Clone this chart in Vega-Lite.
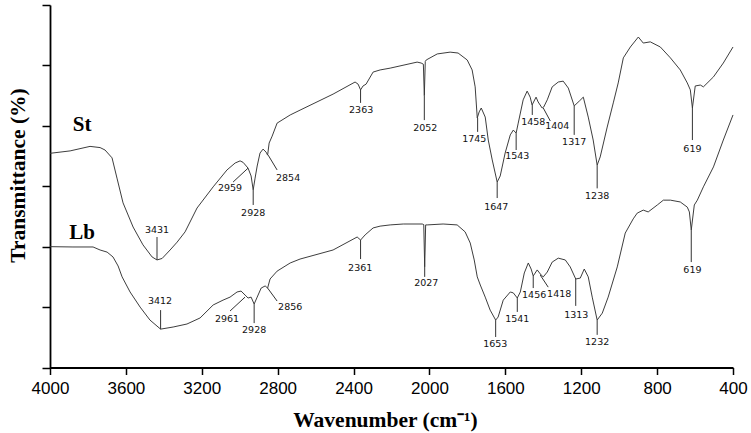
{
  "$schema": "https://vega.github.io/schema/vega-lite/v6.json",
  "width": 683,
  "height": 362.5,
  "autosize": {"type": "none"},
  "padding": {"left": 50, "top": 5, "right": 18, "bottom": 65.5},
  "background": "white",
  "config": {"view": {"stroke": null}, "axis": {"grid": false}},
  "datasets": {
    "spectra": [
      {"series":"St","wn":4000,"t":70.9},{"series":"St","wn":3894,"t":71.7},{"series":"St","wn":3789,"t":73.2},{"series":"St","wn":3736,"t":72.8},{"series":"St","wn":3710,"t":72.0},{"series":"St","wn":3673,"t":69.4},{"series":"St","wn":3647,"t":62.7},{"series":"St","wn":3615,"t":54.5},{"series":"St","wn":3562,"t":46.5},{"series":"St","wn":3510,"t":40.6},{"series":"St","wn":3462,"t":36.6},{"series":"St","wn":3436,"t":35.6},{"series":"St","wn":3409,"t":36.1},{"series":"St","wn":3367,"t":38.9},{"series":"St","wn":3330,"t":41.5},{"series":"St","wn":3288,"t":44.9},{"series":"St","wn":3225,"t":52.8},{"series":"St","wn":3140,"t":59.8},{"series":"St","wn":3067,"t":65.4},{"series":"St","wn":3024,"t":67.7},{"series":"St","wn":2998,"t":68.4},{"series":"St","wn":2982,"t":67.9},{"series":"St","wn":2956,"t":66.0},{"series":"St","wn":2940,"t":63.4},{"series":"St","wn":2929,"t":58.8},{"series":"St","wn":2919,"t":62.7},{"series":"St","wn":2908,"t":66.7},{"series":"St","wn":2893,"t":71.0},{"series":"St","wn":2877,"t":72.3},{"series":"St","wn":2861,"t":71.3},{"series":"St","wn":2853,"t":70.3},{"series":"St","wn":2845,"t":74.3},{"series":"St","wn":2829,"t":76.6},{"series":"St","wn":2803,"t":80.9},{"series":"St","wn":2734,"t":83.6},{"series":"St","wn":2682,"t":85.2},{"series":"St","wn":2508,"t":90.5},{"series":"St","wn":2392,"t":94.5},{"series":"St","wn":2376,"t":93.8},{"series":"St","wn":2363,"t":91.9},{"series":"St","wn":2350,"t":93.2},{"series":"St","wn":2334,"t":93.8},{"series":"St","wn":2297,"t":97.8},{"series":"St","wn":2260,"t":98.5},{"series":"St","wn":2207,"t":99.1},{"series":"St","wn":2065,"t":101.1},{"series":"St","wn":2044,"t":100.8},{"series":"St","wn":2032,"t":100.4},{"series":"St","wn":2027,"t":90.0},{"series":"St","wn":2022,"t":101.3},{"series":"St","wn":2017,"t":101.8},{"series":"St","wn":1959,"t":103.8},{"series":"St","wn":1891,"t":104.4},{"series":"St","wn":1849,"t":104.1},{"series":"St","wn":1801,"t":101.8},{"series":"St","wn":1775,"t":98.5},{"series":"St","wn":1759,"t":92.9},{"series":"St","wn":1748,"t":82.6},{"series":"St","wn":1738,"t":84.6},{"series":"St","wn":1727,"t":85.9},{"series":"St","wn":1706,"t":82.9},{"series":"St","wn":1690,"t":75.3},{"series":"St","wn":1669,"t":68.7},{"series":"St","wn":1643,"t":61.4},{"series":"St","wn":1627,"t":63.4},{"series":"St","wn":1601,"t":71.0},{"series":"St","wn":1574,"t":77.0},{"series":"St","wn":1558,"t":78.6},{"series":"St","wn":1543,"t":77.6},{"series":"St","wn":1532,"t":80.9},{"series":"St","wn":1506,"t":88.6},{"series":"St","wn":1485,"t":91.5},{"series":"St","wn":1469,"t":89.5},{"series":"St","wn":1459,"t":86.9},{"series":"St","wn":1438,"t":89.5},{"series":"St","wn":1427,"t":87.9},{"series":"St","wn":1406,"t":85.9},{"series":"St","wn":1398,"t":86.2},{"series":"St","wn":1379,"t":88.6},{"series":"St","wn":1353,"t":92.9},{"series":"St","wn":1321,"t":94.5},{"series":"St","wn":1295,"t":94.8},{"series":"St","wn":1268,"t":92.5},{"series":"St","wn":1237,"t":86.6},{"series":"St","wn":1210,"t":88.2},{"series":"St","wn":1189,"t":89.5},{"series":"St","wn":1163,"t":82.9},{"series":"St","wn":1137,"t":75.3},{"series":"St","wn":1116,"t":67.0},{"series":"St","wn":1100,"t":69.7},{"series":"St","wn":1063,"t":79.6},{"series":"St","wn":1031,"t":87.6},{"series":"St","wn":1005,"t":94.2},{"series":"St","wn":978,"t":102.5},{"series":"St","wn":941,"t":106.1},{"series":"St","wn":899,"t":109.4},{"series":"St","wn":873,"t":107.4},{"series":"St","wn":836,"t":107.8},{"series":"St","wn":783,"t":106.1},{"series":"St","wn":730,"t":102.5},{"series":"St","wn":678,"t":98.5},{"series":"St","wn":641,"t":94.2},{"series":"St","wn":625,"t":91.9},{"series":"St","wn":614,"t":85.9},{"series":"St","wn":599,"t":93.2},{"series":"St","wn":572,"t":93.5},{"series":"St","wn":556,"t":92.9},{"series":"St","wn":503,"t":96.2},{"series":"St","wn":451,"t":100.8},{"series":"St","wn":400,"t":106.1},
      {"series":"Lb","wn":4000,"t":40.0},{"series":"Lb","wn":3879,"t":39.9},{"series":"Lb","wn":3773,"t":39.9},{"series":"Lb","wn":3736,"t":38.9},{"series":"Lb","wn":3699,"t":38.2},{"series":"Lb","wn":3668,"t":36.6},{"series":"Lb","wn":3641,"t":33.6},{"series":"Lb","wn":3620,"t":30.0},{"series":"Lb","wn":3578,"t":25.0},{"series":"Lb","wn":3525,"t":20.0},{"series":"Lb","wn":3473,"t":15.7},{"series":"Lb","wn":3417,"t":12.7},{"series":"Lb","wn":3351,"t":13.4},{"series":"Lb","wn":3278,"t":14.4},{"series":"Lb","wn":3209,"t":16.4},{"series":"Lb","wn":3140,"t":20.7},{"series":"Lb","wn":3088,"t":22.3},{"series":"Lb","wn":3051,"t":23.3},{"series":"Lb","wn":3014,"t":25.0},{"series":"Lb","wn":2993,"t":25.3},{"series":"Lb","wn":2972,"t":24.0},{"series":"Lb","wn":2956,"t":23.0},{"series":"Lb","wn":2940,"t":23.3},{"series":"Lb","wn":2924,"t":21.0},{"series":"Lb","wn":2908,"t":23.3},{"series":"Lb","wn":2887,"t":26.3},{"series":"Lb","wn":2866,"t":27.0},{"series":"Lb","wn":2853,"t":26.3},{"series":"Lb","wn":2840,"t":29.3},{"series":"Lb","wn":2803,"t":31.9},{"series":"Lb","wn":2734,"t":34.6},{"series":"Lb","wn":2682,"t":35.9},{"series":"Lb","wn":2508,"t":38.9},{"series":"Lb","wn":2381,"t":43.2},{"series":"Lb","wn":2363,"t":42.2},{"series":"Lb","wn":2339,"t":43.9},{"series":"Lb","wn":2297,"t":46.2},{"series":"Lb","wn":2260,"t":46.8},{"series":"Lb","wn":2207,"t":47.2},{"series":"Lb","wn":2138,"t":47.5},{"series":"Lb","wn":2038,"t":47.5},{"series":"Lb","wn":2030,"t":47.3},{"series":"Lb","wn":2025,"t":33.3},{"series":"Lb","wn":2020,"t":47.2},{"series":"Lb","wn":2012,"t":47.2},{"series":"Lb","wn":1928,"t":47.5},{"series":"Lb","wn":1854,"t":47.2},{"series":"Lb","wn":1812,"t":44.9},{"series":"Lb","wn":1785,"t":41.2},{"series":"Lb","wn":1764,"t":35.6},{"series":"Lb","wn":1748,"t":30.0},{"series":"Lb","wn":1732,"t":27.3},{"series":"Lb","wn":1706,"t":23.3},{"series":"Lb","wn":1680,"t":19.0},{"series":"Lb","wn":1651,"t":15.7},{"series":"Lb","wn":1638,"t":16.7},{"series":"Lb","wn":1611,"t":22.3},{"series":"Lb","wn":1574,"t":25.0},{"series":"Lb","wn":1558,"t":24.7},{"series":"Lb","wn":1537,"t":23.0},{"series":"Lb","wn":1521,"t":25.0},{"series":"Lb","wn":1500,"t":31.3},{"series":"Lb","wn":1479,"t":34.6},{"series":"Lb","wn":1464,"t":32.6},{"series":"Lb","wn":1453,"t":30.3},{"series":"Lb","wn":1432,"t":32.3},{"series":"Lb","wn":1411,"t":30.6},{"series":"Lb","wn":1400,"t":30.0},{"series":"Lb","wn":1379,"t":31.6},{"series":"Lb","wn":1353,"t":34.9},{"series":"Lb","wn":1321,"t":36.2},{"series":"Lb","wn":1284,"t":35.6},{"series":"Lb","wn":1258,"t":33.3},{"series":"Lb","wn":1229,"t":29.3},{"series":"Lb","wn":1205,"t":29.6},{"series":"Lb","wn":1184,"t":32.6},{"series":"Lb","wn":1163,"t":30.0},{"series":"Lb","wn":1142,"t":23.3},{"series":"Lb","wn":1116,"t":15.7},{"series":"Lb","wn":1089,"t":18.0},{"series":"Lb","wn":1058,"t":23.3},{"series":"Lb","wn":1010,"t":33.3},{"series":"Lb","wn":968,"t":44.5},{"series":"Lb","wn":926,"t":49.2},{"series":"Lb","wn":905,"t":51.1},{"series":"Lb","wn":873,"t":52.1},{"series":"Lb","wn":847,"t":51.5},{"series":"Lb","wn":799,"t":53.8},{"series":"Lb","wn":767,"t":55.4},{"series":"Lb","wn":730,"t":55.4},{"series":"Lb","wn":678,"t":54.8},{"series":"Lb","wn":641,"t":53.1},{"series":"Lb","wn":630,"t":51.5},{"series":"Lb","wn":620,"t":45.5},{"series":"Lb","wn":604,"t":53.8},{"series":"Lb","wn":588,"t":55.4},{"series":"Lb","wn":556,"t":59.8},{"series":"Lb","wn":503,"t":66.4},{"series":"Lb","wn":451,"t":75.3},{"series":"Lb","wn":400,"t":83.6}
    ],
    "peaks": [
      {"series":"St","label":"3431","lx":3436,"ly":45.5,"x1":3436,"y1":43.2,"x2":3436,"y2":35.6},
      {"series":"St","label":"2959","lx":3051,"ly":59.4,"x1":3035,"y1":61.4,"x2":2956,"y2":66.0},
      {"series":"St","label":"2928","lx":2929,"ly":51.1,"x1":2929,"y1":58.8,"x2":2929,"y2":53.8},
      {"series":"St","label":"2854","lx":2745,"ly":62.7,"x1":2850,"y1":70.3,"x2":2803,"y2":65.4},
      {"series":"St","label":"2363","lx":2360,"ly":85.2,"x1":2363,"y1":91.9,"x2":2363,"y2":87.6},
      {"series":"St","label":"2052","lx":2022,"ly":79.3,"x1":2027,"y1":90.0,"x2":2027,"y2":81.9},
      {"series":"St","label":"1745","lx":1764,"ly":75.6,"x1":1746,"y1":82.6,"x2":1746,"y2":78.0},
      {"series":"St","label":"1647","lx":1648,"ly":53.1,"x1":1643,"y1":61.4,"x2":1643,"y2":56.1},
      {"series":"St","label":"1543","lx":1537,"ly":70.0,"x1":1543,"y1":77.6,"x2":1543,"y2":72.0},
      {"series":"St","label":"1458","lx":1453,"ly":81.3,"x1":1458,"y1":86.9,"x2":1458,"y2":83.6},
      {"series":"St","label":"1404","lx":1326,"ly":79.9,"x1":1400,"y1":85.9,"x2":1363,"y2":81.6},
      {"series":"St","label":"1317","lx":1237,"ly":74.6,"x1":1237,"y1":86.6,"x2":1237,"y2":77.0},
      {"series":"St","label":"1238","lx":1116,"ly":56.8,"x1":1116,"y1":67.0,"x2":1116,"y2":59.3},
      {"series":"St","label":"619","lx":614,"ly":72.3,"x1":614,"y1":85.9,"x2":614,"y2":75.3},
      {"series":"Lb","label":"3412","lx":3420,"ly":22.0,"x1":3417,"y1":19.0,"x2":3417,"y2":12.7},
      {"series":"Lb","label":"2961","lx":3067,"ly":16.1,"x1":3051,"y1":18.7,"x2":2972,"y2":23.3},
      {"series":"Lb","label":"2928","lx":2924,"ly":12.4,"x1":2924,"y1":21.0,"x2":2924,"y2":14.7},
      {"series":"Lb","label":"2856","lx":2734,"ly":20.0,"x1":2853,"y1":26.3,"x2":2803,"y2":22.0},
      {"series":"Lb","label":"2361","lx":2365,"ly":32.9,"x1":2363,"y1":42.2,"x2":2363,"y2":35.9},
      {"series":"Lb","label":"2027","lx":2017,"ly":28.0,"x1":2025,"y1":33.3,"x2":2025,"y2":30.0},
      {"series":"Lb","label":"1653","lx":1653,"ly":7.8,"x1":1651,"y1":15.7,"x2":1651,"y2":10.1},
      {"series":"Lb","label":"1541","lx":1537,"ly":16.0,"x1":1537,"y1":23.0,"x2":1537,"y2":18.4},
      {"series":"Lb","label":"1456","lx":1448,"ly":24.0,"x1":1453,"y1":30.3,"x2":1453,"y2":26.3},
      {"series":"Lb","label":"1418","lx":1316,"ly":24.3,"x1":1416,"y1":30.6,"x2":1374,"y2":26.6},
      {"series":"Lb","label":"1313","lx":1226,"ly":17.4,"x1":1229,"y1":29.3,"x2":1229,"y2":20.4},
      {"series":"Lb","label":"1232","lx":1116,"ly":8.4,"x1":1116,"y1":15.7,"x2":1116,"y2":10.8},
      {"series":"Lb","label":"619","lx":614,"ly":32.3,"x1":620,"y1":45.5,"x2":620,"y2":34.9}
    ],
    "names": [
      {"name":"St","wn":3831,"t":80.3},
      {"name":"Lb","wn":3831,"t":44.5}
    ]
  },
  "layer": [
    {
      "data": {"name": "spectra"},
      "mark": {"type": "line", "color": "#333333", "strokeWidth": 0.95},
      "encoding": {
        "x": {
          "field": "wn", "type": "quantitative",
          "scale": {"domain": [400, 4000], "reverse": true, "nice": false, "zero": false},
          "axis": {
            "title": "Wavenumber (cm⁻¹)",
            "titleFont": "Liberation Serif", "titleFontWeight": "bold", "titleFontSize": 21.5, "titleColor": "black",
            "titleX": 335, "titleY": 59, "titleAlign": "center", "titleBaseline": "alphabetic", "titleAngle": 0,
            "values": [4000,3800,3600,3400,3200,3000,2800,2600,2400,2200,2000,1800,1600,1400,1200,1000,800,600,400],
            "labelExpr": "datum.value % 400 === 0 ? datum.label : ''",
            "format": "d",
            "tickSize": {"condition": {"test": "datum.value % 400 === 0", "value": 7}, "value": 4},
            "labelFont": "Liberation Sans", "labelFontSize": 17, "labelColor": "black", "labelPadding": 6,
            "labelFlush": false, "labelOverlap": false, "labelBound": false,
            "domainColor": "black", "domainWidth": 1.8, "tickColor": "black", "tickWidth": 1.5
          }
        },
        "y": {
          "field": "t", "type": "quantitative",
          "scale": {"domain": [0, 120], "nice": false, "zero": false},
          "axis": {
            "title": "Transmittance (%)",
            "titleFont": "Liberation Serif", "titleFontWeight": "bold", "titleFontSize": 21.5, "titleColor": "black",
            "titleX": -26, "titleY": 170, "titleAngle": -90, "titleAlign": "center", "titleBaseline": "alphabetic",
            "values": [0,10,20,30,40,50,60,70,80,90,100,110,120],
            "labels": false, "tickSize": 8,
            "domainColor": "black", "domainWidth": 1.8, "tickColor": "black", "tickWidth": 1.5
          }
        },
        "detail": {"field": "series"}
      }
    },
    {
      "data": {"name": "peaks"},
      "mark": {"type": "rule", "color": "#333", "strokeWidth": 1},
      "encoding": {
        "x": {"field": "x1", "type": "quantitative"},
        "x2": {"field": "x2"},
        "y": {"field": "y1", "type": "quantitative"},
        "y2": {"field": "y2"}
      }
    },
    {
      "data": {"name": "peaks"},
      "mark": {"type": "text", "font": "DejaVu Sans", "fontSize": 9.5, "color": "#111", "align": "center", "baseline": "middle"},
      "encoding": {
        "x": {"field": "lx", "type": "quantitative"},
        "y": {"field": "ly", "type": "quantitative"},
        "text": {"field": "label"}
      }
    },
    {
      "data": {"name": "names"},
      "mark": {"type": "text", "font": "Liberation Serif", "fontWeight": "bold", "fontSize": 21, "color": "black", "align": "center", "baseline": "middle"},
      "encoding": {
        "x": {"field": "wn", "type": "quantitative"},
        "y": {"field": "t", "type": "quantitative"},
        "text": {"field": "name"}
      }
    }
  ]
}
